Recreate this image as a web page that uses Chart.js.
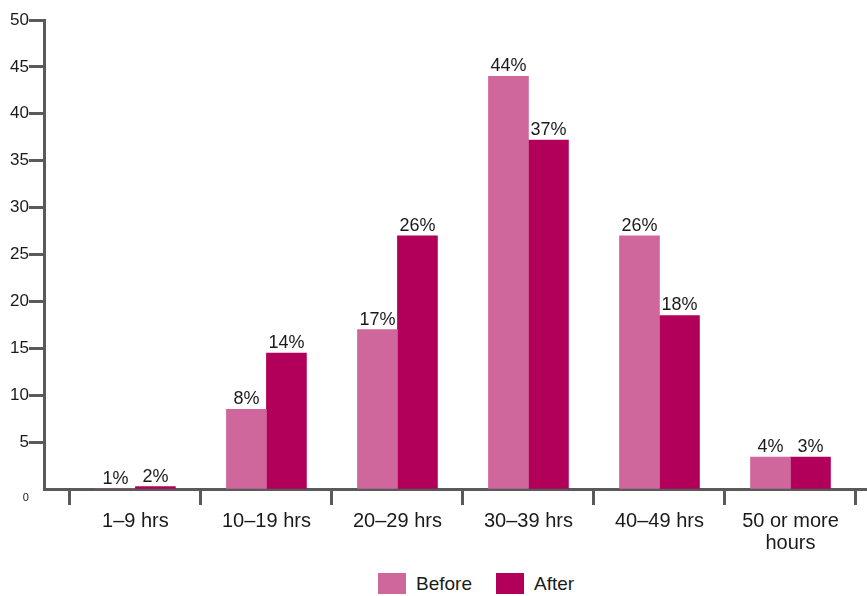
<!DOCTYPE html>
<html>
<head>
<meta charset="utf-8">
<script src="https://cdn.jsdelivr.net/npm/chart.js@4"></script>
<style>
  body { margin: 0; background: #fff; font-family: "Liberation Sans", Arial, sans-serif; }
  #wrap { position: relative; width: 867px; height: 560px; }
  #legend { width: 867px; height: 36px; }
</style>
</head>
<body>
<div id="wrap"><canvas id="hours_chart"></canvas></div>
<div id="legend"></div>
<script>
// Categories (x axis) and their positions on the linear axis.
const categories = ['1–9 hrs', '10–19 hrs', '20–29 hrs', '30–39 hrs', '40–49 hrs', ['50 or more', 'hours']];
const positions = [1, 2, 3, 4, 5, 6];

// Bar heights.
const before = [0, 8.5, 17, 44, 27, 3.4];
const after = [0.25, 14.5, 27, 37.2, 18.5, 3.4];

// Percent labels printed above the bars.
const beforeLabels = ['1%', '8%', '17%', '44%', '26%', '4%'];
const afterLabels = ['2%', '14%', '26%', '37%', '18%', '3%'];

// Y axis ticks.
const yTicks = [0, 5, 10, 15, 20, 25, 30, 35, 40, 45, 50];

const axisColor = '#5a5a5a';
const textColor = '#1a1a1a';

// Draws the percent text above every bar.
const barLabelPlugin = {
  id: 'barLabels',
  afterDatasetsDraw(chart) {
    const ctx = chart.ctx;
    ctx.save();
    ctx.font = '18px "Liberation Sans"';
    ctx.fillStyle = textColor;
    ctx.textAlign = 'center';
    ctx.textBaseline = 'alphabetic';
    chart.data.datasets.forEach((ds, i) => {
      chart.getDatasetMeta(i).data.forEach((bar, j) => {
        ctx.fillText(ds.pctLabels[j], bar.x, bar.y - 5);
      });
    });
    ctx.restore();
  }
};

// HTML legend, like the built-in one but placed under the canvas.
const htmlLegendPlugin = {
  id: 'htmlLegend',
  afterUpdate(chart, args, options) {
    const container = document.getElementById(options.containerID);
    container.innerHTML = '';
    const ul = document.createElement('ul');
    ul.style.display = 'flex';
    ul.style.margin = 0;
    ul.style.padding = '13px 0 0 378px';
    ul.style.listStyle = 'none';
    container.appendChild(ul);

    chart.options.plugins.legend.labels.generateLabels(chart).forEach(item => {
      const li = document.createElement('li');
      li.style.display = 'flex';
      li.style.alignItems = 'center';
      li.style.marginRight = '24px';

      const boxSpan = document.createElement('span');
      boxSpan.style.background = item.fillStyle;
      boxSpan.style.display = 'inline-block';
      boxSpan.style.width = '28px';
      boxSpan.style.height = '21px';
      boxSpan.style.marginRight = '10px';

      const text = document.createElement('span');
      text.style.color = textColor;
      text.style.fontSize = '19px';
      text.style.lineHeight = '21px';
      text.textContent = item.text;

      li.appendChild(boxSpan);
      li.appendChild(text);
      ul.appendChild(li);
    });
  }
};

const toPoints = vals => vals.map((v, i) => ({ x: positions[i], y: v }));

const chart = new Chart(document.getElementById('hours_chart'), {
  type: 'bar',
  data: {
    datasets: [
      { label: 'Before', data: toPoints(before), pctLabels: beforeLabels, backgroundColor: '#cf669c' },
      { label: 'After', data: toPoints(after), pctLabels: afterLabels, backgroundColor: '#b2005a' }
    ]
  },
  options: {
    responsive: true,
    maintainAspectRatio: false,
    animation: false,
    barThickness: 40,
    layout: { padding: { top: 20, left: 10, right: 0, bottom: 1 } },
    plugins: {
      legend: { display: false },
      tooltip: { enabled: false },
      htmlLegend: { containerID: 'legend' }
    },
    scales: {
      x: {
        type: 'linear',
        min: 0.5 - 25 / 131,
        max: 6.5 + 11 / 131,
        offset: false,
        afterBuildTicks: scale => {
          // boundary ticks at the half steps, labels at the category centres
          const t = [];
          for (let v = 0.5; v <= 6.5; v += 0.5) t.push({ value: v });
          scale.ticks = t;
        },
        border: { display: true, color: axisColor, width: 3 },
        grid: {
          offset: false,
          drawOnChartArea: false,
          tickLength: 16,
          tickWidth: 3,
          tickColor: ctx => (ctx.tick && Number.isInteger(ctx.tick.value)) ? 'rgba(0,0,0,0)' : axisColor
        },
        ticks: {
          autoSkip: false,
          maxRotation: 0,
          minRotation: 0,
          padding: 5,
          color: textColor,
          font: { family: 'Liberation Sans', size: 20, lineHeight: 1.1 },
          callback: value => Number.isInteger(value) ? categories[positions.indexOf(value)] : ''
        }
      },
      y: {
        min: 0,
        max: 50,
        afterBuildTicks: scale => { scale.ticks = yTicks.map(v => ({ value: v })); },
        border: { display: true, color: axisColor, width: 3 },
        grid: {
          drawOnChartArea: false,
          tickLength: 16,
          tickWidth: 3,
          tickColor: ctx => (ctx.tick && ctx.tick.value === 0) ? 'rgba(0,0,0,0)' : axisColor
        },
        ticks: {
          padding: 0,
          color: textColor,
          font: ctx => (ctx.tick && ctx.tick.value === 0)
            ? { family: 'Liberation Sans', size: 11, lineHeight: 1.64 }
            : { family: 'Liberation Sans', size: 17 },
          callback: value => value === 0 ? ['', '0'] : String(value)
        }
      }
    }
  },
  plugins: [barLabelPlugin, htmlLegendPlugin]
});
</script>
</body>
</html>
